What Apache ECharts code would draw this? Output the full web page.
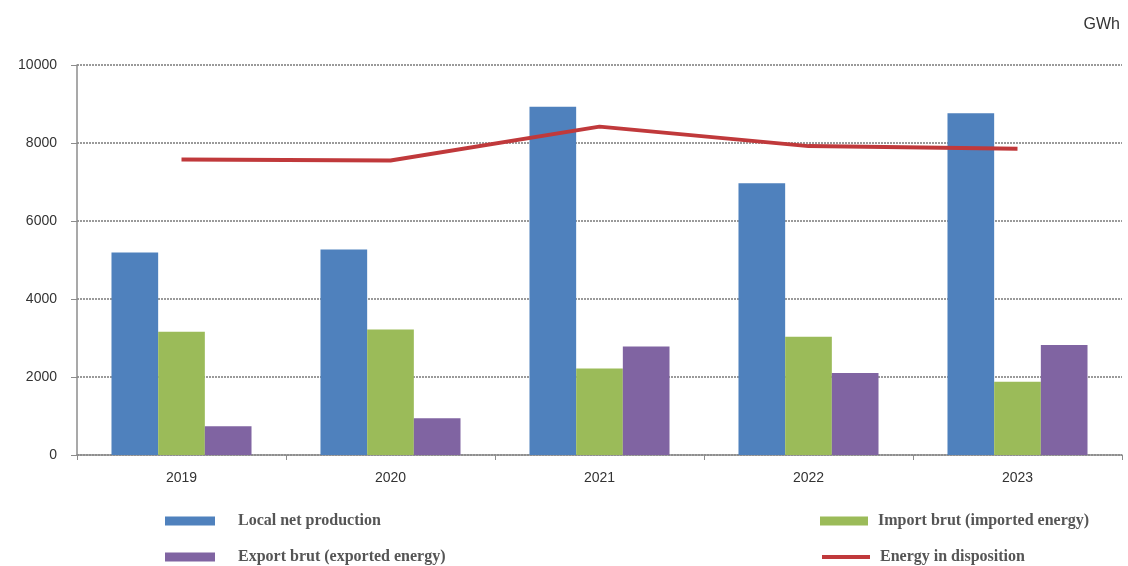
<!DOCTYPE html>
<html>
<head>
<meta charset="utf-8">
<script src="https://cdn.jsdelivr.net/npm/echarts@6/dist/echarts.min.js"></script>
<style>
html,body{margin:0;padding:0;background:#fff;}
#main{width:1128px;height:566px;}
</style>
</head>
<body>
<div id="main"></div>
<script>
var years = ['2019', '2020', '2021', '2022', '2023'];
var localNetProduction = [5190, 5270, 8930, 6970, 8760];
var importBrut = [3160, 3220, 2220, 3030, 1880];
var exportBrut = [740, 940, 2780, 2100, 2820];
var energyInDisposition = [7580, 7550, 8420, 7920, 7850];
var unitLabel = 'GWh';
var seriesNames = ['Local net production', 'Import brut (imported energy)', 'Export brut (exported energy)', 'Energy in disposition'];

var chart = echarts.init(document.getElementById('main'));
function mkLegend(name, left, top, w, h, gap) {
  return {
    data: [name], left: left, top: top,
    itemWidth: w, itemHeight: h, icon: 'rect',
    textStyle: {
      fontFamily: '"Liberation Serif", "Times New Roman", serif',
      fontWeight: 'bold', fontSize: 16, color: '#555',
      padding: [0, 0, 0, gap]
    },
    selectedMode: false, padding: 0
  };
}
chart.setOption({
  animation: false,
  backgroundColor: '#fff',
  title: {
    text: unitLabel, right: 3, top: 12,
    textStyle: { fontFamily: '"Liberation Sans", Arial, sans-serif', fontWeight: 'normal', fontSize: 16, color: '#333' }
  },
  legend: [
    mkLegend(seriesNames[0], 165, 513, 50, 9, 18),
    mkLegend(seriesNames[1], 820, 513, 48, 9, 5),
    mkLegend(seriesNames[2], 165, 549, 50, 9, 18),
    mkLegend(seriesNames[3], 822, 549, 48, 4, 5)
  ],
  grid: { left: 77, right: 6, top: 65, bottom: 111 },
  xAxis: {
    type: 'category', data: years,
    axisLine: { lineStyle: { color: '#8c8c8c', width: 1.5 } },
    axisTick: { show: true, interval: 0, length: 5, lineStyle: { color: '#8c8c8c' } },
    axisLabel: { color: '#333', fontSize: 14, fontFamily: '"Liberation Sans", Arial, sans-serif', margin: 16 }
  },
  yAxis: {
    type: 'value', min: 0, max: 10000, interval: 2000,
    axisLine: { show: true, lineStyle: { color: '#8c8c8c', width: 1.5 } },
    axisTick: { show: true, length: 6, lineStyle: { color: '#8c8c8c' } },
    axisLabel: { color: '#333', fontSize: 14, fontFamily: '"Liberation Sans", Arial, sans-serif', margin: 20,
      formatter: function (v) { return String(v); } },
    splitLine: { show: true, lineStyle: { color: '#7a7a7a', type: [2, 1], width: 1.5 } }
  },
  series: [
    { name: seriesNames[0], type: 'bar', data: localNetProduction, itemStyle: { color: '#4F81BD' }, barGap: '0%', barCategoryGap: '33%' },
    { name: seriesNames[1], type: 'bar', data: importBrut, itemStyle: { color: '#9BBB59' } },
    { name: seriesNames[2], type: 'bar', data: exportBrut, itemStyle: { color: '#8064A2' } },
    { name: seriesNames[3], type: 'line', data: energyInDisposition, symbol: 'none',
      itemStyle: { color: '#C0393B' }, lineStyle: { color: '#C0393B', width: 4 } }
  ]
});
</script>
</body>
</html>
